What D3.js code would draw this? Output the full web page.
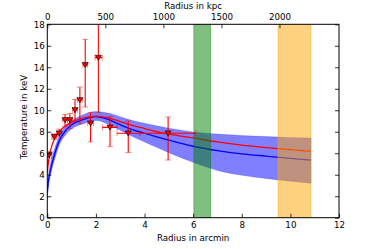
<!DOCTYPE html>
<html>
<head>
<meta charset="utf-8">
<script src="https://cdn.jsdelivr.net/npm/d3@7"></script>
<style>
  body { margin: 0; background: #fff; }
  svg text { font-family: "DejaVu Sans", sans-serif; }
</style>
</head>
<body>
<svg id="chart" width="374" height="249"></svg>
<script>
// measured temperature profile (arcmin, keV)
var ptX   = [0.08, 0.29, 0.49, 0.73, 0.93, 1.14, 1.34, 1.56, 1.78, 2.1, 2.58, 3.33, 4.97];
var ptT   = [5.84, 7.54, 7.86, 9.1, 9.1, 10.03, 10.96, 14.22, 8.79, 14.9, 8.41, 7.86, 7.86];
var ptTlo = [5.55, 7.3, 7.5, 8.5, 8.3, 9.0, 8.8, 10.3, 7.05, 9.8, 6.62, 6.07, 5.37];
var ptThi = [6.15, 7.8, 8.25, 9.6, 9.7, 11.0, 12.15, 16.6, 9.8, 20, 9.42, 9.0, 9.37];
var ptXlo = [0.0, 0.19, 0.39, 0.63, 0.83, 1.04, 1.24, 1.46, 1.66, 1.96, 2.27, 2.87, 3.81];
var ptXhi = [0.17, 0.39, 0.59, 0.83, 1.03, 1.24, 1.44, 1.66, 1.9, 2.26, 2.88, 3.81, 6.12];

// model curves
var gridX   = [0, 0.05, 0.1, 0.2, 0.3, 0.5, 0.75, 1, 1.5, 2, 2.5, 3, 3.5, 4, 4.5, 5, 6, 7, 8, 9, 10, 10.85];
var blueT   = [2.3, 3.5, 4.1, 5.1, 5.9, 7.2, 8.1, 8.65, 9.15, 9.4, 9.15, 8.65, 8.2, 7.86, 7.53, 7.22, 6.65, 6.25, 5.95, 5.73, 5.52, 5.36];
var bandLo  = [1.8, 3.0, 3.6, 4.6, 5.4, 6.8, 7.7, 8.25, 8.75, 9.05, 8.7, 8.15, 7.55, 7.05, 6.55, 6.05, 5.15, 4.4, 3.95, 3.65, 3.4, 3.2];
var bandHi  = [2.9, 4.1, 4.7, 5.7, 6.45, 7.6, 8.5, 9.0, 9.6, 9.88, 9.75, 9.4, 9.05, 8.8, 8.55, 8.33, 7.98, 7.78, 7.64, 7.55, 7.46, 7.42];
var redT    = [4.2, 5.2, 5.9, 6.8, 7.35, 8.0, 8.55, 8.9, 9.3, 9.45, 9.3, 8.95, 8.6, 8.3, 8.0, 7.78, 7.42, 7.05, 6.75, 6.53, 6.33, 6.17];

// shaded regions (arcmin)
var greenSpan  = [6.03, 6.72];
var orangeSpan = [9.49, 10.85];

var xTicks = [0, 2, 4, 6, 8, 10, 12];
var yTicks = [0, 2, 4, 6, 8, 10, 12, 14, 16, 18];
var kpcTicks = [0, 500, 1000, 1500, 2000];
var kpcPerArcmin = 209.4;

var margin = {top: 24.3, right: 35, bottom: 31.3, left: 47.3};
var width = 374 - margin.left - margin.right,
    height = 249 - margin.top - margin.bottom;

var svg = d3.select("#chart");
var g = svg.append("g")
    .attr("transform", "translate(" + margin.left + "," + margin.top + ")");

var x = d3.scaleLinear().domain([0, 12]).range([0, width]);
var y = d3.scaleLinear().domain([0, 18]).range([height, 0]);
var xKpc = d3.scaleLinear().domain([0, 12 * kpcPerArcmin]).range([0, width]);

g.append("clipPath").attr("id", "clip")
  .append("rect").attr("width", width).attr("height", height);

var plot = g.append("g").attr("clip-path", "url(#clip)");

// blue uncertainty band
var band = d3.area()
    .x(function(d, i) { return x(gridX[i]); })
    .y0(function(d, i) { return y(bandLo[i]); })
    .y1(function(d, i) { return y(bandHi[i]); })
    .curve(d3.curveMonotoneX);
plot.append("path")
    .datum(gridX)
    .attr("d", band)
    .style("fill", "blue")
    .style("fill-opacity", 0.5)
    .style("stroke", "blue")
    .style("stroke-opacity", 0.3)
    .style("stroke-width", 0.6);

function curve(vals) {
  return d3.line()
    .x(function(d, i) { return x(gridX[i]); })
    .y(function(d, i) { return y(vals[i]); })
    .curve(d3.curveMonotoneX)(gridX);
}

plot.append("path").attr("d", curve(blueT))
    .style("fill", "none").style("stroke", "blue").style("stroke-width", 1.3);
plot.append("path").attr("d", curve(redT))
    .style("fill", "none").style("stroke", "red").style("stroke-width", 1.3);

// vertical spans
[[greenSpan, "green"], [orangeSpan, "orange"]].forEach(function(s) {
  plot.append("rect")
      .attr("x", x(s[0][0]))
      .attr("y", 0)
      .attr("width", x(s[0][1]) - x(s[0][0]))
      .attr("height", height)
      .style("fill", s[1])
      .style("fill-opacity", 0.5)
      .style("stroke", s[1])
      .style("stroke-opacity", 0.5)
      .style("stroke-width", 0.8);
});

// error bars
var pts = ptX.map(function(v, i) {
  return {x: v, t: ptT[i], tlo: ptTlo[i], thi: ptThi[i], xlo: ptXlo[i], xhi: ptXhi[i]};
});
var eb = plot.selectAll(".err").data(pts).enter().append("g").attr("class", "err");
eb.append("line")
    .attr("x1", function(d) { return x(d.x); }).attr("x2", function(d) { return x(d.x); })
    .attr("y1", function(d) { return y(d.tlo); }).attr("y2", function(d) { return y(d.thi); })
    .style("stroke", "red").style("stroke-width", 1.1);
eb.append("line")
    .attr("x1", function(d) { return x(d.xlo); }).attr("x2", function(d) { return x(d.xhi); })
    .attr("y1", function(d) { return y(d.t); }).attr("y2", function(d) { return y(d.t); })
    .style("stroke", "red").style("stroke-width", 1.1);
// caps
var caps = [];
pts.forEach(function(d) {
  caps.push({x: d.x, t: d.tlo, v: false}, {x: d.x, t: d.thi, v: false},
            {x: d.xlo, t: d.t, v: true}, {x: d.xhi, t: d.t, v: true});
});
plot.selectAll(".cap").data(caps).enter().append("line")
    .attr("class", "cap")
    .attr("x1", function(d) { return x(d.x) - (d.v ? 0 : 3); })
    .attr("x2", function(d) { return x(d.x) + (d.v ? 0 : 3); })
    .attr("y1", function(d) { return y(d.t) - (d.v ? 3 : 0); })
    .attr("y2", function(d) { return y(d.t) + (d.v ? 3 : 0); })
    .style("stroke", "red").style("stroke-opacity", 0.45).style("stroke-width", 1);

// triangle markers
plot.selectAll(".dot").data(pts).enter().append("path")
    .attr("class", "dot")
    .attr("d", "M-3,-2.3L3,-2.3L0,2.8Z")
    .attr("transform", function(d) { return "translate(" + x(d.x) + "," + y(d.t) + ")"; })
    .style("fill", "red")
    .style("stroke", "black")
    .style("stroke-width", 0.6);

// axes
function styleAxis(sel) {
  sel.select(".domain").remove();
  sel.selectAll("line").style("stroke", "black").style("stroke-width", 0.8);
  sel.selectAll("text").style("font-size", "8.7px").style("fill", "black")
     .style("font-family", "DejaVu Sans, sans-serif");
}

g.append("g")
    .attr("transform", "translate(0," + height + ")")
    .call(d3.axisBottom(x).tickValues(xTicks).tickSizeInner(-4).tickSizeOuter(0).tickPadding(4))
    .call(styleAxis);

g.append("g")
    .call(d3.axisLeft(y).tickValues(yTicks).tickSizeInner(-4).tickSizeOuter(0).tickPadding(2.5))
    .call(styleAxis);

g.append("g")
    .attr("transform", "translate(" + width + ",0)")
    .call(d3.axisRight(y).tickValues(yTicks).tickSizeInner(-4).tickSizeOuter(0).tickFormat(""))
    .call(styleAxis);

g.append("g")
    .call(d3.axisTop(xKpc).tickValues(kpcTicks).tickFormat(d3.format("d"))
      .tickSizeInner(-4).tickSizeOuter(0).tickPadding(4.3))
    .call(styleAxis);

g.append("rect")
    .attr("width", width).attr("height", height)
    .style("fill", "none").style("stroke", "black").style("stroke-width", 1);

// labels
g.append("text")
    .attr("x", width / 2).attr("y", height + 23)
    .style("text-anchor", "middle").style("font-size", "8.7px")
    .text("Radius in arcmin");

g.append("text")
    .attr("x", width / 2).attr("y", -15.5)
    .style("text-anchor", "middle").style("font-size", "8.7px")
    .text("Radius in kpc");

g.append("text")
    .attr("transform", "rotate(-90)")
    .attr("x", -(height / 2) + 4)
    .attr("y", -20)
    .style("text-anchor", "middle").style("font-size", "8.7px")
    .text("Temperature in keV");
</script>
</body>
</html>
